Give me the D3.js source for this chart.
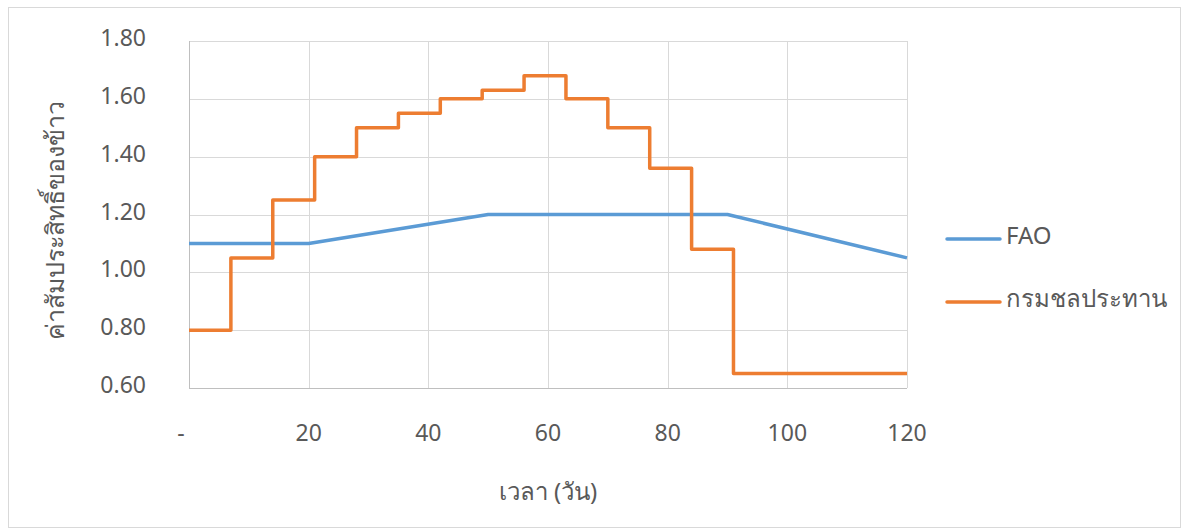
<!DOCTYPE html>
<html><head><meta charset="utf-8">
<script src="https://cdn.jsdelivr.net/npm/d3@7"></script>
<style>
body{margin:0;background:#fff;}
svg{display:block;font-family:"Noto Sans","Open Sans",sans-serif;}
</style></head>
<body><svg id="c" width="1187" height="529"></svg>
<script>
const stepDays = [0,7,14,21,28,35,42,49,56,63,70,77,84,91,120];
const rid = [0.80,1.05,1.25,1.40,1.50,1.55,1.60,1.63,1.68,1.60,1.50,1.36,1.08,0.65,0.65];
const faoDays = [0,20,50,90,120];
const fao = [1.10,1.10,1.20,1.20,1.05];
const yTicks = [0.60,0.80,1.00,1.20,1.40,1.60,1.80];
const xTicks = [0,20,40,60,80,100,120];
const seriesNames = ["FAO","กรมชลประทาน"];
const colors = ["#5B9BD5","#ED7D31"];

const svg = d3.select("#c");
svg.append("rect").attr("x",8.5).attr("y",7.5).attr("width",1172).attr("height",520)
  .attr("fill","#fff").attr("stroke","#d9d9d9");

const x = d3.scaleLinear().domain([0,120]).range([189,907]);
const y = d3.scaleLinear().domain([0.6,1.8]).range([388,41]);

// grid
svg.append("g").selectAll("line").data(yTicks.slice(1)).join("line")
  .attr("x1",x(0)).attr("x2",x(120)).attr("y1",d=>Math.round(y(d))+0.5).attr("y2",d=>Math.round(y(d))+0.5)
  .attr("stroke","#d9d9d9").attr("stroke-width",1);
svg.append("g").selectAll("line").data(xTicks.slice(1)).join("line")
  .attr("y1",y(0.6)).attr("y2",y(1.8)).attr("x1",d=>Math.round(x(d))+0.5).attr("x2",d=>Math.round(x(d))+0.5)
  .attr("stroke","#d9d9d9").attr("stroke-width",1);
// axes lines
svg.append("line").attr("x1",x(0)).attr("x2",x(120)).attr("y1",Math.round(y(0.6))+0.5).attr("y2",Math.round(y(0.6))+0.5).attr("stroke","#bfbfbf");
svg.append("line").attr("x1",Math.round(x(0))+0.5).attr("x2",Math.round(x(0))+0.5).attr("y1",y(0.6)).attr("y2",y(1.8)).attr("stroke","#bfbfbf");

// tick labels
svg.append("g").selectAll("text").data(yTicks).join("text")
  .attr("x",146).attr("y",d=>y(d)-3).attr("dy","0.35em").attr("text-anchor","end")
  .attr("fill","#595959").attr("font-size",23).text(d=>d3.format(".2f")(d));
svg.append("g").selectAll("text").data(xTicks).join("text")
  .attr("x",d=>d===0?x(0)-8:x(d)).attr("y",433).attr("dy","0.35em").attr("text-anchor","middle")
  .attr("fill","#595959").attr("font-size",23).text(d=>d===0?"-":d);

// axis titles
svg.append("text").attr("x",548).attr("y",492).attr("dy","0.35em").attr("text-anchor","middle")
  .attr("fill","#595959").attr("font-size",24).text("เวลา (วัน)");
svg.append("text").attr("transform","translate(55,220) rotate(-90)").attr("dy","0.35em").attr("text-anchor","middle")
  .attr("fill","#595959").attr("font-size",25).text("ค่าสัมประสิทธิ์ของข้าว");

// lines
const faoLine = d3.line().x(d=>x(d[0])).y(d=>y(d[1]));
svg.append("path").attr("d",faoLine(faoDays.map((d,i)=>[d,fao[i]])))
  .attr("fill","none").attr("stroke",colors[0]).attr("stroke-width",3.5).attr("stroke-linejoin","round");
const stepLine = d3.line().x(d=>x(d[0])).y(d=>y(d[1])).curve(d3.curveStepAfter);
svg.append("path").attr("d",stepLine(stepDays.map((d,i)=>[d,rid[i]])))
  .attr("fill","none").attr("stroke",colors[1]).attr("stroke-width",3.5).attr("stroke-linejoin","round");

// legend
const leg = svg.append("g").selectAll("g").data(seriesNames).join("g")
  .attr("transform",(d,i)=>`translate(947,${239+i*63})`);
leg.append("line").attr("x1",0).attr("x2",53).attr("stroke",(d,i)=>colors[i]).attr("stroke-width",3.5).attr("stroke-linecap","round");
leg.append("text").attr("x",59).attr("y",-3).attr("dy","0.35em").attr("fill","#595959").attr("font-size",24).text(d=>d);
</script></body></html>
